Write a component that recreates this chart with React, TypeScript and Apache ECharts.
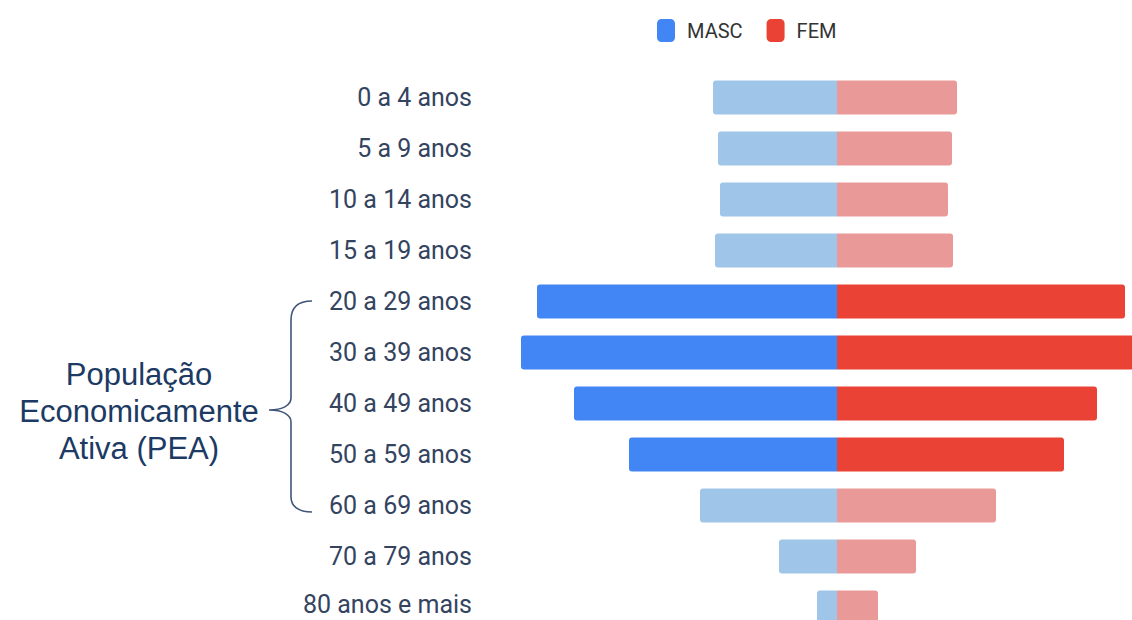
import React, { useEffect, useRef } from "react";
import * as echarts from "echarts";

const CATEGORIES = [
  "0 a 4 anos",
  "5 a 9 anos",
  "10 a 14 anos",
  "15 a 19 anos",
  "20 a 29 anos",
  "30 a 39 anos",
  "40 a 49 anos",
  "50 a 59 anos",
  "60 a 69 anos",
  "70 a 79 anos",
  "80 anos e mais",
];
const MASC = [124, 119, 117, 122, 300, 316, 263, 208, 137, 58, 20];
const FEM = [120, 115, 111, 116, 288, 305, 260, 227, 159, 79, 41];
const HIGHLIGHT = ["20 a 29 anos", "30 a 39 anos", "40 a 49 anos", "50 a 59 anos"];
const ANNOTATION = ["População", "Economicamente", "Ativa (PEA)"];

const BRACE_D =
  "M 312 301 C 298 301 291 307 291 320 L 291 398 C 291 405 283 410 269 410 C 283 410 291 415 291 422 L 291 497 C 291 506 298 512 312 512";

let braceRegistered = false;

export default function App() {
  const ref = useRef<HTMLDivElement>(null);
  useEffect(() => {
    if (!ref.current) return;
    if (!braceRegistered) {
      echarts.graphic.registerShape("brace", echarts.graphic.extendPath(BRACE_D, {}));
      braceRegistered = true;
    }
    const chart = echarts.init(ref.current, null, { renderer: "svg" });
    const isHi = (i: number) => HIGHLIGHT.includes(CATEGORIES[i]);
    const lastCat = CATEGORIES[CATEGORIES.length - 1];
    chart.setOption({
      animation: false,
      legend: {
        left: 652,
        top: 14,
        itemWidth: 18,
        itemHeight: 23,
        itemGap: 24,
        icon: "roundRect",
        textStyle: {
          fontFamily: "Roboto",
          fontSize: 20,
          color: "#333333",
          padding: [0, 0, 0, 7],
        },
        data: ["MASC", "FEM"],
      },
      grid: {
        left: 477,
        top: 72,
        width: 680,
        height: 561,
        containLabel: false,
        outerBoundsMode: "none",
      },
      xAxis: { type: "value", min: -360, max: 320, show: false },
      yAxis: {
        type: "category",
        data: CATEGORIES,
        inverse: true,
        axisLine: { show: false },
        axisTick: { show: false },
        splitLine: { show: false },
        axisLabel: {
          fontFamily: "Roboto",
          fontSize: 25,
          lineHeight: 24,
          color: "#34445f",
          margin: 5,
          formatter: (v: string) => (v === lastCat ? `{last|${v}}` : v),
          rich: {
            last: {
              fontFamily: "Roboto",
              fontSize: 25,
              lineHeight: 22,
              color: "#34445f",
              padding: [0, 0, 6, 0],
            },
          },
        },
      },
      series: [
        {
          name: "MASC",
          type: "bar",
          stack: "pop",
          barWidth: 34,
          itemStyle: { color: "#4285f4" },
          data: MASC.map((v, i) => ({
            value: -v,
            itemStyle: {
              color: isHi(i) ? "#4285f4" : "#9fc5e8",
              borderRadius: [3, 0, 0, 3],
            },
          })),
        },
        {
          name: "FEM",
          type: "bar",
          stack: "pop",
          barWidth: 34,
          itemStyle: { color: "#ea4335" },
          data: FEM.map((v, i) => ({
            value: v,
            itemStyle: {
              color: isHi(i) ? "#ea4335" : "#ea9999",
              borderRadius: [0, 3, 3, 0],
            },
          })),
        },
      ],
      graphic: [
        {
          type: "brace",
          x: 0,
          y: 0,
          style: { stroke: "#3f5677", fill: "none", lineWidth: 1.6 },
        },
        {
          type: "text",
          x: 139,
          y: 411,
          style: {
            text: ANNOTATION.join("\n"),
            font: '31px "Liberation Sans", Arial, sans-serif',
            fill: "#1c3a63",
            align: "center",
            verticalAlign: "middle",
            lineHeight: 37,
          },
        },
      ],
    });
    return () => chart.dispose();
  }, []);
  return (
    <div
      ref={ref}
      style={{ position: "absolute", left: 0, top: 0, width: 1132, height: 620, overflow: "hidden" }}
    />
  );
}
